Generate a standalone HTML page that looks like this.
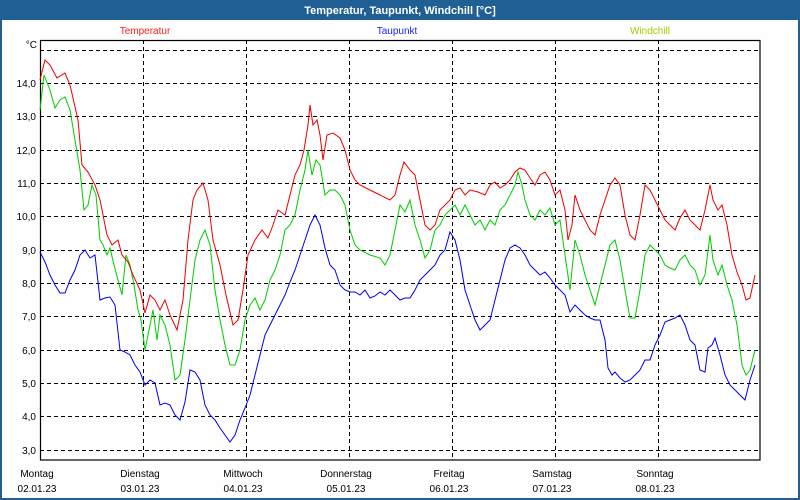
<!DOCTYPE html>
<html><head><meta charset="utf-8"><style>
html,body{margin:0;padding:0;width:800px;height:500px;overflow:hidden;background:#1f5f94;}
svg{display:block;font-family:"Liberation Sans",sans-serif;}
</style></head><body>
<svg width="800" height="500" xmlns="http://www.w3.org/2000/svg">
<rect x="0" y="0" width="800" height="500" fill="#1f5f94"/>
<rect x="2" y="20" width="796" height="478" fill="#fdfefd"/>
<text x="400" y="14" fill="#fff" font-size="11" font-weight="bold" text-anchor="middle">Temperatur, Taupunkt, Windchill [°C]</text>
<text x="145" y="34" fill="#ff2020" font-size="10" text-anchor="middle">Temperatur</text>
<text x="397" y="34" fill="#2020ff" font-size="10" text-anchor="middle">Taupunkt</text>
<text x="650" y="34" fill="#a0d000" font-size="10" text-anchor="middle">Windchill</text>
<g stroke="#000" stroke-width="1" stroke-dasharray="4,3" fill="none">
<path d="M40 50.5H760M40 83.5H760M40 116.5H760M40 150.5H760M40 183.5H760M40 216.5H760M40 250.5H760M40 283.5H760M40 316.5H760M40 350.5H760M40 383.5H760M40 416.5H760M40 450.5H760"/>
<path d="M143.5 40V460M246.5 40V460M349.5 40V460M452.5 40V460M555.5 40V460M658.5 40V460"/>
</g>
<rect x="40.5" y="40.5" width="719.5" height="419.5" fill="none" stroke="#000" stroke-width="1.2"/>
<g font-size="10" fill="#000" text-anchor="end">
<text x="37" y="48">°C</text>
<text x="36" y="87">14,0</text><text x="36" y="120">13,0</text><text x="36" y="154">12,0</text>
<text x="36" y="187">11,0</text><text x="36" y="220">10,0</text><text x="36" y="254">9,0</text>
<text x="36" y="287">8,0</text><text x="36" y="320">7,0</text><text x="36" y="354">6,0</text>
<text x="36" y="387">5,0</text><text x="36" y="420">4,0</text><text x="36" y="454">3,0</text>
</g>
<g font-size="10" fill="#000" text-anchor="middle">
<text x="37" y="477">Montag</text><text x="37" y="492">02.01.23</text>
<text x="140" y="477">Dienstag</text><text x="140" y="492">03.01.23</text>
<text x="243" y="477">Mittwoch</text><text x="243" y="492">04.01.23</text>
<text x="346" y="477">Donnerstag</text><text x="346" y="492">05.01.23</text>
<text x="449" y="477">Freitag</text><text x="449" y="492">06.01.23</text>
<text x="552" y="477">Samstag</text><text x="552" y="492">07.01.23</text>
<text x="655" y="477">Sonntag</text><text x="655" y="492">08.01.23</text>
</g>
<polyline fill="none" stroke="#0000ee" stroke-width="1" points="40,252 45,262 50,275 55,285 60,293 65,293 70,280 75,270 80,255 85,250 90,258 95,255 100,300 105,298 110,297 115,305 120,350 125,352 130,355 135,365 140,372 145,385 150,380 155,383 160,405 165,403 170,405 175,415 180,420 185,402 190,370 195,372 200,380 205,405 210,415 215,420 220,428 225,435 230,442 235,435 240,420 245,408 250,395 255,375 260,355 265,335 270,325 275,315 280,305 285,295 290,282 295,270 300,255 305,240 310,225 315,215 320,225 325,248 330,265 335,270 340,285 345,290 350,292 355,292 360,295 365,290 370,298 375,296 380,292 385,295 390,290 395,295 400,300 405,298 410,298 415,290 420,280 425,275 430,270 435,265 440,255 445,250 450,232 455,240 460,260 465,290 470,305 475,320 480,330 485,325 490,320 495,300 500,280 505,260 510,248 515,245 520,248 525,255 530,265 535,270 540,275 545,272 550,278 555,285 560,290 565,295 570,312 575,305 580,310 585,315 590,318 595,320 600,320 605,340 608,368 612,375 615,372 620,378 625,382 630,380 635,375 640,370 645,360 650,360 655,345 660,335 665,322 670,320 675,318 680,315 685,325 690,340 695,345 700,370 705,372 708,348 712,345 715,338 720,355 725,375 730,385 735,390 740,395 745,400 750,380 755,365"/>
<polyline fill="none" stroke="#00cc00" stroke-width="1" points="40,110 44,75 50,90 55,108 60,100 65,97 70,110 75,140 80,170 84,210 88,205 92,185 96,195 100,240 103,245 107,255 110,248 114,265 118,280 122,295 126,255 130,265 134,285 138,310 141,320 145,350 150,325 153,310 157,340 160,315 165,325 170,345 175,380 180,375 185,340 190,300 195,260 200,240 205,230 210,245 215,290 220,320 225,345 230,365 235,365 240,350 245,320 250,305 255,298 260,310 265,300 270,280 275,270 280,255 285,230 290,225 295,215 300,190 305,170 308,150 312,175 316,160 320,165 325,195 330,190 335,190 340,195 345,205 350,230 355,245 360,250 370,255 380,258 385,265 390,255 395,230 400,205 405,212 410,200 415,225 420,240 425,258 430,250 435,230 440,225 445,215 450,210 455,205 460,215 465,205 470,215 475,225 480,220 485,230 490,220 495,225 500,210 505,205 510,195 515,185 518,172 522,185 525,200 530,215 535,220 540,210 545,215 550,208 555,225 560,220 565,255 570,290 575,240 580,255 585,275 590,290 595,305 600,285 605,265 610,245 615,240 620,260 625,290 630,318 635,318 640,290 645,255 650,245 655,250 660,255 665,265 670,268 675,270 680,260 685,255 690,265 695,270 700,285 705,275 710,235 713,260 718,275 722,265 727,285 732,300 737,325 742,365 746,375 750,370 755,350"/>
<polyline fill="none" stroke="#ee0000" stroke-width="1" points="40,80 45,60 50,65 57,78 65,73 70,85 78,120 82,165 88,172 95,185 100,200 107,235 112,245 118,240 122,255 128,262 133,275 140,290 145,313 150,295 155,300 160,310 165,300 170,315 177,330 183,300 188,240 193,200 197,190 203,183 208,200 213,240 220,265 226,295 233,325 238,320 243,290 248,255 255,240 262,230 268,238 273,225 278,210 285,215 290,195 295,175 300,165 304,150 308,125 310,105 313,125 317,120 320,135 323,160 327,135 333,133 340,138 345,150 350,170 355,180 360,185 370,190 380,195 390,200 395,195 400,175 404,162 410,170 415,175 420,200 425,225 430,230 435,225 440,210 445,205 450,200 455,190 460,188 465,195 470,190 478,192 485,195 490,185 495,182 500,188 505,185 510,180 515,172 520,168 525,170 530,178 535,185 540,175 545,172 550,180 555,195 560,190 565,210 568,240 572,225 575,195 580,210 585,220 590,230 595,235 600,215 605,200 610,185 615,178 620,185 625,215 630,235 635,240 640,215 645,185 650,190 655,200 660,210 665,220 670,225 675,230 680,218 685,210 690,220 695,225 700,230 705,210 710,185 713,200 718,210 722,205 727,225 732,255 737,272 742,285 746,300 750,298 755,275"/>
</svg>
</body></html>
